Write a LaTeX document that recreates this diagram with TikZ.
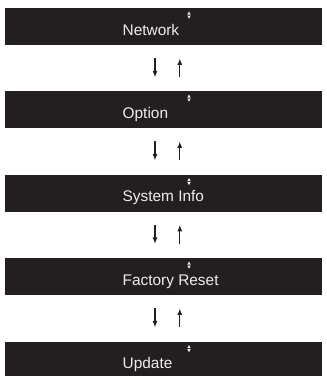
\documentclass[tikz,border=0pt]{standalone}
\usepackage{fontspec}
\setmainfont{Liberation Sans}
\usetikzlibrary{arrows.meta,calc}
\definecolor{barblack}{HTML}{231F20}
\definecolor{bartext}{HTML}{EDEDED}
\tikzset{
  menubar/.style={fill=barblack, draw=none, minimum width=317pt, minimum height=37pt, inner sep=0pt, anchor=north west},
  menutext/.style={text=bartext, font=\fontsize{15.4}{16}\selectfont, anchor=base west, inner sep=0pt},
  navarrow/.style={draw=barblack, line width=1.2pt, -{Latex[length=6.5pt,width=5pt]}},
  marktri/.style={fill=bartext, draw=none}
}
\begin{document}
\begin{tikzpicture}[x=1pt,y=-1pt]
\useasboundingbox (0,0) rectangle (327,376);
\foreach \i/\top/\txt in {1/8/Network, 2/91/Option, 3/174.5/System Info, 4/258/Factory Reset, 5/341.5/Update}{
  \node[menubar] (b\i) at (5,\top) {};
  \node[menutext] (t\i) at (122.5,\top+27) {\txt};
  \fill[marktri] (189,\top+3.5) -- (187.3,\top+6.6) -- (190.7,\top+6.6) -- cycle;
  \fill[marktri] (189,\top+10.7) -- (187.3,\top+7.6) -- (190.7,\top+7.6) -- cycle;
}
\foreach \i/\j in {1/2,2/3,3/4,4/5}{
  \coordinate (dn\i a) at ($(b\i.south west)+(150,13)$);
  \coordinate (dn\i b) at ($(b\i.south west)+(150,32)$);
  \coordinate (up\i a) at ($(b\i.south west)+(174.8,32)$);
  \coordinate (up\i b) at ($(b\i.south west)+(174.8,13)$);
  \draw[navarrow] (dn\i a) -- (dn\i b);
  \draw[navarrow] (up\i a) -- (up\i b);
}
\end{tikzpicture}
\end{document}
